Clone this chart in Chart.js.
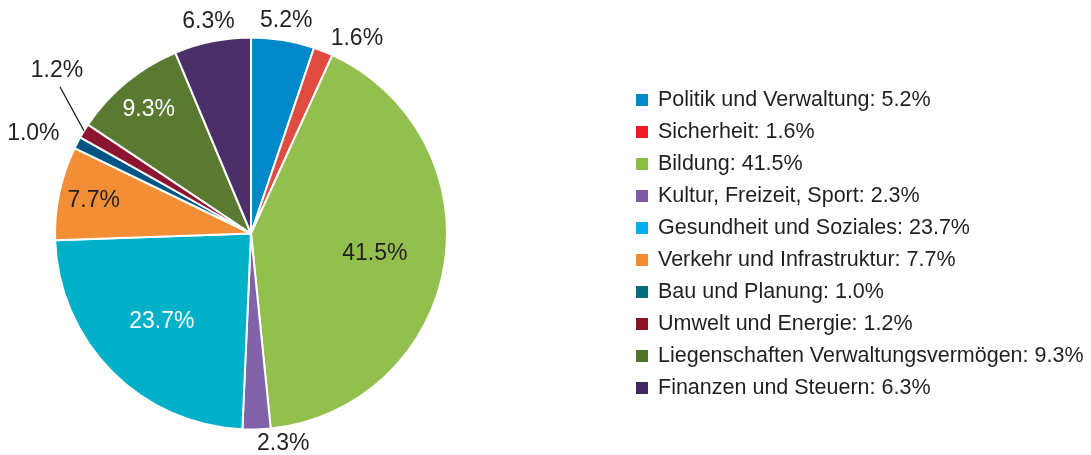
<!DOCTYPE html>
<html>
<head>
<meta charset="utf-8">
<script src="https://cdn.jsdelivr.net/npm/chart.js@4.4.1/dist/chart.umd.min.js"></script>
<style>
  html, body { margin: 0; padding: 0; background: #fff; }
  #wrap { width: 1091px; height: 455px; }
</style>
</head>
<body>
<div id="wrap"><canvas id="pieChart" width="1091" height="455"></canvas></div>
<script>
// Categories and shares (percent), clockwise from 12 o'clock
const categories = [
  'Politik und Verwaltung', 'Sicherheit', 'Bildung', 'Kultur, Freizeit, Sport',
  'Gesundheit und Soziales', 'Verkehr und Infrastruktur', 'Bau und Planung',
  'Umwelt und Energie', 'Liegenschaften Verwaltungsvermögen', 'Finanzen und Steuern'
];
const shares = [5.2, 1.6, 41.5, 2.3, 23.7, 7.7, 1.0, 1.2, 9.3, 6.3];

const sliceColors = ['#0088c8', '#e04a3f', '#93bf4f', '#7f62a8', '#00afc8',
                     '#f28f36', '#005587', '#8c1630', '#5a7a32', '#4a2f68'];
const legendColors = ['#0088c8', '#ed1c24', '#8cc044', '#7f5ba6', '#00aeef',
                      '#f58a2e', '#006f79', '#8b1124', '#4e7429', '#42275e'];

const fontFamily = '"Liberation Sans", Arial, Helvetica, sans-serif';
const darkText = '#231f20';

const fmt = v => v.toFixed(1) + '%';

// percent labels on / around the slices
const sliceLabels = {
  id: 'sliceLabels',
  afterDatasetsDraw(chart) {
    const ctx = chart.ctx;
    const arcs = chart.getDatasetMeta(0).data;
    ctx.save();
    ctx.font = '23px ' + fontFamily;
    ctx.textBaseline = 'middle';
    let lastBox = null;
    arcs.forEach((arc, i) => {
      const { x, y, startAngle, endAngle, outerRadius } = arc.getProps(['x', 'y', 'startAngle', 'endAngle', 'outerRadius'], true);
      const mid = (startAngle + endAngle) / 2;
      const c = Math.cos(mid), s = Math.sin(mid);
      const v = shares[i];
      const txt = fmt(v);
      if (v >= 7) {
        const r = outerRadius * (v > 20 ? 0.64 : 0.82);
        const col = sliceColors[i];
        const lum = 0.299 * parseInt(col.substr(1, 2), 16) + 0.587 * parseInt(col.substr(3, 2), 16) + 0.114 * parseInt(col.substr(5, 2), 16);
        ctx.fillStyle = lum < 140 ? '#ffffff' : darkText;
        ctx.textAlign = 'center';
        ctx.fillText(txt, x + c * r, y + s * r);
        return;
      }
      const w = ctx.measureText(txt).width;
      const r = outerRadius + 20 - 6 * Math.max(0, s);
      const lx = x + c * r;
      const ly = y + s * r + (s < 0 && c >= 0.2 ? 6 : 0);
      const align = (s < 0 && Math.abs(c) < 0.2) ? 'center' : (c >= 0 ? 'left' : 'right');
      const x1 = align === 'left' ? lx : (align === 'right' ? lx - w : lx - w / 2);
      const box = { x1: x1, x2: x1 + w, y1: ly - 12, y2: ly + 12 };
      ctx.fillStyle = darkText;
      const hits = lastBox && box.x1 < lastBox.x2 && box.x2 > lastBox.x1 && box.y1 < lastBox.y2 && box.y2 > lastBox.y1;
      if (hits) {
        // callout with leader line
        const ex = x + c * outerRadius, ey = y + s * outerRadius;
        const tx = ex - 24, ty = ey - 44;
        ctx.strokeStyle = darkText;
        ctx.lineWidth = 1.2;
        ctx.beginPath();
        ctx.moveTo(ex, ey);
        ctx.lineTo(tx, ty);
        ctx.stroke();
        ctx.textAlign = 'center';
        ctx.fillText(txt, tx - 3, ty - 16);
        lastBox = { x1: tx - 3 - w / 2, x2: tx - 3 + w / 2, y1: ty - 28, y2: ty - 4 };
        return;
      }
      ctx.textAlign = align;
      ctx.fillText(txt, lx, ly);
      lastBox = box;
    });
    ctx.restore();
  }
};

// legend on the right
const sideLegend = {
  id: 'sideLegend',
  afterDraw(chart) {
    const ctx = chart.ctx;
    ctx.save();
    ctx.font = '21.5px ' + fontFamily;
    ctx.textBaseline = 'middle';
    ctx.textAlign = 'left';
    categories.forEach((name, i) => {
      const rowY = 99.5 + i * 32;
      ctx.fillStyle = legendColors[i];
      ctx.fillRect(636, rowY - 5.5, 12, 12);
      ctx.fillStyle = darkText;
      ctx.fillText(name + ': ' + fmt(shares[i]), 658, rowY + 1);
    });
    ctx.restore();
  }
};

new Chart(document.getElementById('pieChart').getContext('2d'), {
  type: 'pie',
  data: {
    labels: categories,
    datasets: [{
      data: shares,
      backgroundColor: sliceColors,
      borderColor: '#ffffff',
      borderWidth: 2
    }]
  },
  options: {
    responsive: false,
    animation: false,
    layout: { padding: { top: 36, bottom: 24, left: 54, right: 643 } },
    plugins: {
      legend: { display: false },
      tooltip: { enabled: false }
    }
  },
  plugins: [sliceLabels, sideLegend]
});
</script>
</body>
</html>
